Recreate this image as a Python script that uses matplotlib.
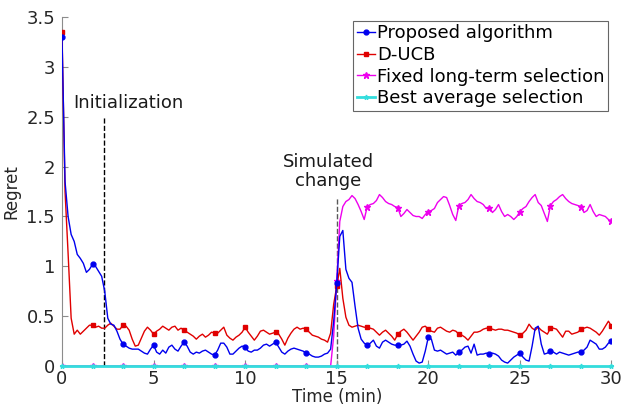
import matplotlib
matplotlib.use('Agg')
import matplotlib.pyplot as plt
import numpy as np

# time axis: one sample every 10 s over 30 min
t = np.linspace(0, 30, 181)

proposed = [3.3, 1.85, 1.5, 1.32, 1.25, 1.12, 1.08, 1.03, 0.94, 0.97,
            1.02, 1.0, 0.95, 0.9, 0.75, 0.48, 0.42, 0.41, 0.35, 0.27,
            0.22, 0.2, 0.18, 0.17, 0.17, 0.17, 0.15, 0.13, 0.12, 0.17,
            0.21, 0.14, 0.12, 0.16, 0.13, 0.19, 0.21, 0.17, 0.15, 0.2,
            0.24, 0.2, 0.14, 0.12, 0.14, 0.13, 0.15, 0.16, 0.14, 0.12,
            0.11, 0.16, 0.23, 0.23, 0.19, 0.12, 0.12, 0.15, 0.18, 0.2,
            0.19, 0.15, 0.14, 0.16, 0.16, 0.18, 0.21, 0.22, 0.2, 0.22,
            0.24, 0.19, 0.14, 0.12, 0.15, 0.17, 0.18, 0.17, 0.16, 0.15,
            0.13, 0.12, 0.1, 0.09, 0.09, 0.1, 0.12, 0.13, 0.17, 0.45,
            0.83, 1.3, 1.36, 0.97, 0.88, 0.84, 0.6, 0.38, 0.27, 0.23,
            0.21, 0.23, 0.26, 0.2, 0.18, 0.24, 0.26, 0.24, 0.22, 0.21,
            0.21, 0.21, 0.22, 0.25, 0.2, 0.12, 0.05, 0.03, 0.04, 0.15,
            0.29, 0.27, 0.16, 0.15, 0.16, 0.14, 0.12, 0.13, 0.14, 0.11,
            0.14, 0.16, 0.19, 0.2, 0.13, 0.22, 0.11, 0.12, 0.12, 0.13,
            0.12, 0.13, 0.12, 0.1, 0.06, 0.04, 0.03, 0.06, 0.09, 0.11,
            0.13, 0.09, 0.06, 0.05, 0.2, 0.38, 0.4, 0.22, 0.12, 0.13,
            0.15, 0.14, 0.12, 0.14, 0.13, 0.12, 0.11, 0.12, 0.13, 0.14,
            0.14, 0.16, 0.19, 0.26, 0.24, 0.22, 0.17, 0.17, 0.19, 0.23,
            0.25]

ducb = [3.35, 1.75, 1.13, 0.48, 0.32, 0.36, 0.32, 0.35, 0.38, 0.41,
        0.41, 0.39, 0.4, 0.38, 0.38, 0.41, 0.43, 0.4, 0.37, 0.37,
        0.41, 0.4, 0.36, 0.27, 0.2, 0.21, 0.28, 0.35, 0.39, 0.36,
        0.32, 0.35, 0.37, 0.4, 0.38, 0.36, 0.39, 0.4, 0.36, 0.38,
        0.36, 0.34, 0.32, 0.3, 0.27, 0.3, 0.32, 0.29, 0.31, 0.34,
        0.33, 0.33, 0.36, 0.39, 0.31, 0.28, 0.26, 0.29, 0.31, 0.34,
        0.39, 0.34, 0.3, 0.26, 0.3, 0.35, 0.36, 0.34, 0.32, 0.33,
        0.34, 0.32, 0.27, 0.21, 0.28, 0.33, 0.37, 0.39, 0.37, 0.38,
        0.37, 0.34, 0.31, 0.3, 0.29, 0.27, 0.26, 0.24, 0.33, 0.62,
        0.8, 0.98, 0.68, 0.49, 0.41, 0.39, 0.4, 0.41, 0.4, 0.39,
        0.39, 0.38, 0.37, 0.34, 0.31, 0.34, 0.36, 0.33, 0.3, 0.26,
        0.32, 0.35, 0.37, 0.34, 0.3, 0.26, 0.3, 0.34, 0.39, 0.4,
        0.37, 0.35, 0.34, 0.38, 0.39, 0.37, 0.35, 0.34, 0.36, 0.35,
        0.32, 0.31, 0.29, 0.26, 0.3, 0.34, 0.34, 0.35, 0.37, 0.38,
        0.38, 0.37, 0.36, 0.37, 0.37, 0.36, 0.36, 0.35, 0.34, 0.33,
        0.31, 0.33, 0.36, 0.42, 0.38, 0.36, 0.39, 0.36, 0.34, 0.32,
        0.38, 0.38, 0.37, 0.33, 0.29, 0.35, 0.35, 0.32, 0.33, 0.34,
        0.37, 0.38, 0.39, 0.38, 0.36, 0.34, 0.31, 0.35, 0.4, 0.45,
        0.4]

fixed = [0.0] * 89 + [
    0.3, 0.85, 1.45, 1.6, 1.65, 1.67, 1.71, 1.68, 1.62, 1.55,
    1.47, 1.6, 1.62, 1.63, 1.66, 1.72, 1.69, 1.65, 1.63, 1.62,
    1.6, 1.59, 1.5, 1.53, 1.57, 1.54, 1.51, 1.5, 1.5, 1.48,
    1.52, 1.55, 1.56, 1.58, 1.64, 1.67, 1.7, 1.69, 1.61, 1.52,
    1.46, 1.61, 1.63, 1.64, 1.67, 1.72, 1.68, 1.65, 1.64, 1.62,
    1.58, 1.59, 1.54, 1.57, 1.62, 1.55, 1.5, 1.52, 1.5, 1.47,
    1.5, 1.55, 1.58, 1.6, 1.65, 1.69, 1.72, 1.64, 1.61, 1.53,
    1.45, 1.61, 1.65, 1.67, 1.7, 1.72, 1.68, 1.65, 1.63, 1.62,
    1.61, 1.6, 1.54, 1.56, 1.62, 1.55, 1.5, 1.52, 1.51, 1.5,
    1.47, 1.45]

best = [0.0] * 181

init_time = 2.3
change_time = 15.0

fig = plt.figure(figsize=(6.23, 4.16), dpi=100)
ax = fig.add_axes([0.0995, 0.12, 0.882, 0.839])

ax.plot(t, proposed, '-o', color='#0000ee', lw=1.0, ms=3.5, markevery=10, label='Proposed algorithm', zorder=4)
ax.plot(t, ducb, '-s', color='#e00000', lw=1.0, ms=3.2, markevery=10, label='D-UCB', zorder=3)
ax.plot(t, fixed, '-*', color='#ee00ee', lw=1.0, ms=4.5, markevery=10, label='Fixed long-term selection', zorder=2)
ax.plot(t, best, '-*', color='#33dddd', lw=2.0, ms=3.5, markevery=10, label='Best average selection', zorder=5, clip_on=False)

ax.plot([init_time, init_time], [0, 2.5], '--', color='k', lw=1.0)
ax.plot([change_time, change_time], [0, 1.7], '--', color='0.35', lw=1.0, zorder=1)

ax.text(0.6, 2.64, 'Initialization', fontsize=13, va='center', ha='left', color='0.1')
ax.text(14.55, 1.95, 'Simulated\nchange', fontsize=13, va='center', ha='center', color='0.1', linespacing=1.05)

ax.set_xlim(0, 30)
ax.set_ylim(0, 3.5)
ax.set_xticks([0, 5, 10, 15, 20, 25, 30])
ax.set_yticks([0, 0.5, 1, 1.5, 2, 2.5, 3, 3.5])
ax.set_yticklabels(['0', '0.5', '1', '1.5', '2', '2.5', '3', '3.5'])
ax.set_xlabel('Time (min)', fontsize=12, color='0.15', labelpad=0)
ax.set_ylabel('Regret', fontsize=12, color='0.15', labelpad=4)

for side in ['top', 'right']:
    ax.spines[side].set_visible(False)
for side in ['left', 'bottom']:
    ax.spines[side].set_color('0.55')
ax.tick_params(direction='in', length=4, color='0.55', labelsize=13, labelcolor='0.15')
ax.tick_params(axis='x', pad=3)
ax.tick_params(axis='y', pad=5)

leg = ax.legend(loc='upper right', fontsize=13, handlelength=1.0, handletextpad=0.1,
                borderpad=0.2, labelspacing=0.2, fancybox=False, framealpha=1,
                edgecolor='0.4', borderaxespad=0.2)
leg.get_frame().set_linewidth(0.8)

fig.savefig('out.png', dpi=100)
